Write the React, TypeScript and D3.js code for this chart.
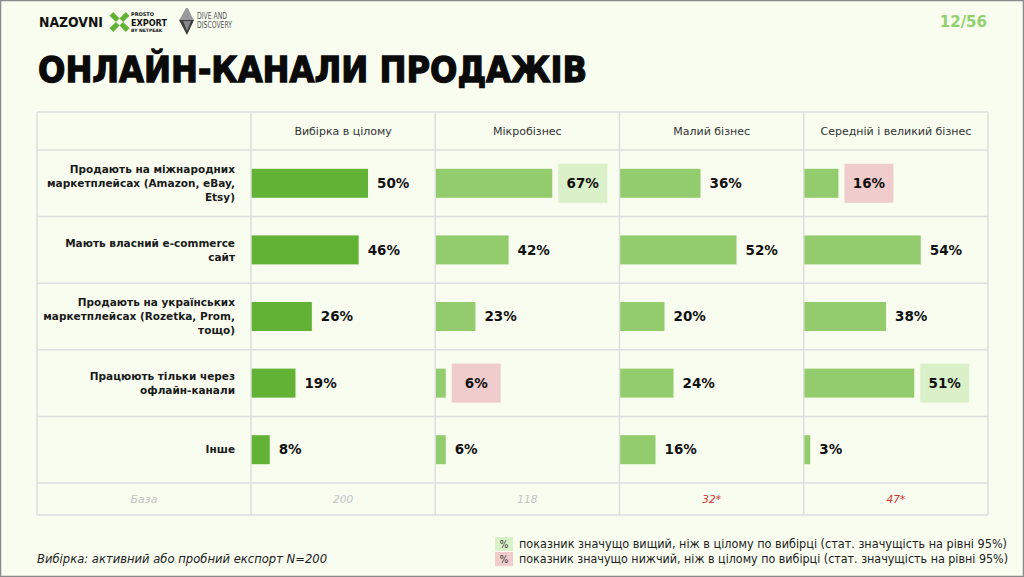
import React, { useEffect, useRef } from 'react';
import * as d3 from 'd3';

const categories = [
  ['Продають на міжнародних', 'маркетплейсах (Amazon, eBay,', 'Etsy)'],
  ['Мають власний e-commerce', 'сайт'],
  ['Продають на українських', 'маркетплейсах (Rozetka, Prom,', 'тощо)'],
  ['Працюють тільки через', 'офлайн-канали'],
  ['Інше'],
];
const groups = ['Вибірка в цілому', 'Мікробізнес', 'Малий бізнес', 'Середній і великий бізнес'];
const totalValues = [50, 46, 26, 19, 8];
const microValues = [67, 42, 23, 6, 6];
const smallValues = [36, 52, 20, 24, 16];
const mediumValues = [16, 54, 38, 51, 3];
// 1 = significantly higher than total, -1 = significantly lower
const totalSig = [0, 0, 0, 0, 0];
const microSig = [1, 0, 0, -1, 0];
const smallSig = [0, 0, 0, 0, 0];
const mediumSig = [-1, 0, 0, 1, 0];
const bases = ['200', '118', '32*', '47*'];
const lowBase = [false, false, true, true];

const legendItems = [
  { sig: 1, text: 'показник значущо вищий, ніж в цілому по вибірці (стат. значущість на рівні 95%)' },
  { sig: -1, text: 'показник значущо нижчий, ніж в цілому по вибірці (стат. значущість на рівні 95%)' },
];

const FONT = '"DejaVu Sans", sans-serif';
const COND = '"DejaVu Sans Condensed", "DejaVu Sans", sans-serif';

export default function App() {
  const ref = useRef(null);

  useEffect(() => {
    const W = 1024, H = 577;
    const svg = d3.select(ref.current);
    svg.selectAll('*').remove();
    svg.attr('width', W).attr('height', H);

    svg.append('rect').attr('width', W).attr('height', H).style('fill', '#f8fdf0');
    svg.append('rect').attr('x', 0.5).attr('y', 0.5).attr('width', W - 1).attr('height', H - 1)
      .style('fill', 'none').style('stroke', '#8a8a8a').style('stroke-width', 1.5);

    // ---- logos / header ----
    svg.append('text').attr('x', 39).attr('y', 27).text('NAZOVNI')
      .style('font-family', FONT).style('font-weight', 'bold').style('font-size', '13.5px')
      .style('fill', '#111').attr('textLength', 64).attr('lengthAdjust', 'spacingAndGlyphs');

    const green = '#62b236';
    const xIcon = svg.append('g').attr('transform', 'translate(119.5,22)');
    [45, 135, 225, 315].forEach(a => {
      xIcon.append('rect').attr('x', 2.5).attr('y', -2.6).attr('width', 9).attr('height', 5.2)
        .attr('transform', `rotate(${a})`).style('fill', green);
    });
    svg.append('text').attr('x', 131).attr('y', 16).text('PROSTO')
      .style('font-family', FONT).style('font-weight', 'bold').style('font-size', '5px').style('fill', '#111');
    svg.append('text').attr('x', 131).attr('y', 25.5).text('EXPORT')
      .style('font-family', FONT).style('font-weight', 'bold').style('font-size', '9px').style('fill', '#111')
      .attr('textLength', 36).attr('lengthAdjust', 'spacingAndGlyphs');
    svg.append('text').attr('x', 131).attr('y', 32).text('BY NETPEAK')
      .style('font-family', FONT).style('font-weight', 'bold').style('font-size', '4.5px').style('fill', '#111');

    svg.append('polygon').attr('points', '186,8 181,17 179,20 194,20 192,17 188,8')
      .style('fill', '#9a9a9a');
    svg.append('polygon').attr('points', '179,20 194,20 187,35').style('fill', '#3c3c3c');
    svg.append('polygon').attr('points', '183,21 191,21 187,31').style('fill', '#888');
    svg.append('text').attr('x', 197).attr('y', 19).text('DIVE AND')
      .style('font-family', COND).style('font-size', '8.5px').style('fill', '#555')
      .attr('textLength', 30).attr('lengthAdjust', 'spacingAndGlyphs');
    svg.append('text').attr('x', 197).attr('y', 27.5).text('DISCOVERY')
      .style('font-family', COND).style('font-size', '8.5px').style('fill', '#555')
      .attr('textLength', 35).attr('lengthAdjust', 'spacingAndGlyphs');

    svg.append('text').attr('x', 987).attr('y', 27).attr('text-anchor', 'end').text('12/56')
      .style('font-family', FONT).style('font-weight', 'bold').style('font-size', '15px').style('fill', '#93d06f');

    svg.append('text').attr('x', 38).attr('y', 82).text('ОНЛАЙН-КАНАЛИ ПРОДАЖІВ')
      .style('font-family', FONT).style('font-weight', 'bold').style('font-size', '35px').style('fill', '#0a0a0a')
      .style('stroke', '#0a0a0a').style('stroke-width', 1.3)
      .attr('textLength', 549).attr('lengthAdjust', 'spacingAndGlyphs');

    // ---- table ----
    const tableLeft = 37, labelRight = 251, tableRight = 988;
    const headTop = 112, headBottom = 150, rowsBottom = 483, baseBottom = 515;

    const xCol = d3.scaleBand().domain(groups).range([labelRight, tableRight]);
    const yRow = d3.scaleBand().domain(d3.range(categories.length)).range([headBottom, rowsBottom]);

    const series = [totalValues, microValues, smallValues, mediumValues];
    const sigs = [totalSig, microSig, smallSig, mediumSig];
    const barMax = 117, barH = 29;

    const g = svg.append('g');

    // bars + labels
    groups.forEach((grp, ci) => {
      const vals = series[ci];
      const xs = d3.scaleLinear().domain([0, d3.max(vals)]).range([0, barMax]);
      const x0 = xCol(grp);
      vals.forEach((v, ri) => {
        const cy = yRow(ri) + yRow.bandwidth() / 2;
        const end = x0 + xs(v);
        g.append('rect').attr('x', x0).attr('y', cy - barH / 2).attr('width', xs(v)).attr('height', barH)
          .style('fill', ci === 0 ? '#62b236' : '#93cc6c');
        const s = sigs[ci][ri];
        let tx = end + 9, anchor = 'start';
        if (s !== 0) {
          g.append('rect').attr('x', end + 6).attr('y', cy - 19.5).attr('width', 49).attr('height', 39)
            .style('fill', s > 0 ? '#d9f0c8' : '#f0cdcc');
          tx = end + 6 + 24.5; anchor = 'middle';
        }
        g.append('text').attr('x', tx).attr('y', cy).attr('dy', '0.35em').attr('text-anchor', anchor)
          .text(v + '%')
          .style('font-family', FONT).style('font-weight', 'bold').style('font-size', '13.5px').style('fill', '#111');
      });
    });

    // grid lines
    const lineCol = '#dedede';
    const hLines = [headTop, headBottom].concat(d3.range(1, categories.length).map(i => yRow(i)), [rowsBottom, baseBottom]);
    hLines.forEach(y => {
      g.append('line').attr('x1', tableLeft).attr('x2', tableRight).attr('y1', y).attr('y2', y)
        .style('stroke', lineCol).style('stroke-width', 1.5);
    });
    const vLines = [tableLeft].concat(groups.map(d => xCol(d)), [tableRight]);
    vLines.forEach(x => {
      g.append('line').attr('x1', x).attr('x2', x).attr('y1', headTop).attr('y2', baseBottom)
        .style('stroke', lineCol).style('stroke-width', 1.5);
    });

    // headers
    groups.forEach(grp => {
      g.append('text').attr('x', xCol(grp) + xCol.bandwidth() / 2).attr('y', (headTop + headBottom) / 2)
        .attr('dy', '0.35em').attr('text-anchor', 'middle').text(grp)
        .style('font-family', FONT).style('font-size', '11px').style('fill', '#333');
    });

    // row labels
    categories.forEach((lines, ri) => {
      const cy = yRow(ri) + yRow.bandwidth() / 2;
      lines.forEach((ln, j) => {
        g.append('text').attr('x', 235).attr('y', cy + (j - (lines.length - 1) / 2) * 14)
          .attr('dy', '0.35em').attr('text-anchor', 'end').text(ln)
          .style('font-family', FONT).style('font-weight', 'bold').style('font-size', '10.5px').style('fill', '#1a1a1a');
      });
    });

    // base row
    const baseY = (rowsBottom + baseBottom) / 2;
    g.append('text').attr('x', (tableLeft + labelRight) / 2).attr('y', baseY).attr('dy', '0.35em')
      .attr('text-anchor', 'middle').text('База')
      .style('font-family', FONT).style('font-style', 'italic').style('font-size', '11px').style('fill', '#c2c2c2');
    groups.forEach((grp, ci) => {
      g.append('text').attr('x', xCol(grp) + xCol.bandwidth() / 2).attr('y', baseY).attr('dy', '0.35em')
        .attr('text-anchor', 'middle').text(bases[ci])
        .style('font-family', FONT).style('font-style', 'italic').style('font-size', '10.5px')
        .style('fill', lowBase[ci] ? '#d4302c' : '#c2c2c2');
    });

    // footer
    svg.append('text').attr('x', 37).attr('y', 563).text('Вибірка: активний або пробний експорт N=200')
      .style('font-family', FONT).style('font-style', 'italic').style('font-size', '11.5px').style('fill', '#222')
      .attr('textLength', 290).attr('lengthAdjust', 'spacingAndGlyphs');

    legendItems.forEach((d, i) => {
      const y = 537 + i * 15;
      svg.append('rect').attr('x', 495).attr('y', y).attr('width', 18).attr('height', 14)
        .style('fill', d.sig > 0 ? '#d9f0c8' : '#f0cdcc');
      svg.append('text').attr('x', 504).attr('y', y + 7).attr('dy', '0.35em').attr('text-anchor', 'middle').text('%')
        .style('font-family', COND).style('font-size', '10px').style('fill', '#333');
      svg.append('text').attr('x', 519).attr('y', y + 7).attr('dy', '0.35em').text(d.text)
        .style('font-family', COND).style('font-size', '12px').style('fill', '#222')
        .attr('textLength', 488 + i).attr('lengthAdjust', 'spacingAndGlyphs');
    });
  }, []);

  return (
    <div style={{ position: 'fixed', left: 0, top: 0 }}>
      <svg ref={ref} style={{ display: 'block' }} />
    </div>
  );
}
